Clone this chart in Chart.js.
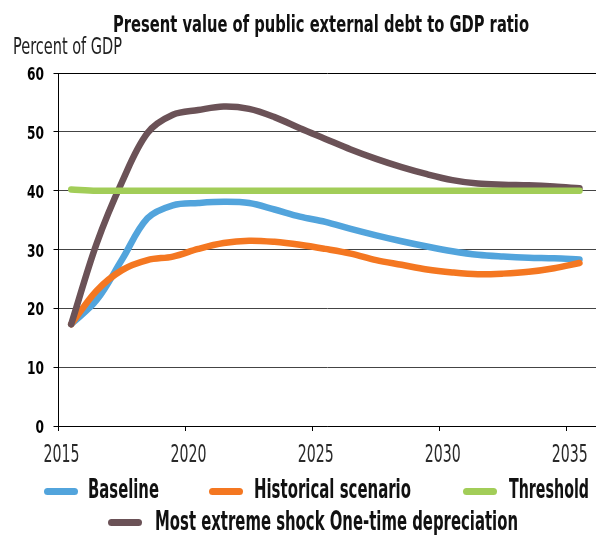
<!DOCTYPE html>
<html>
<head>
<meta charset="utf-8">
<script src="https://cdn.jsdelivr.net/npm/chart.js@4.4.0/dist/chart.umd.min.js"></script>
<style>
  html, body { margin: 0; padding: 0; background: #fff; }
  #wrap { position: relative; width: 596px; height: 535px; overflow: hidden; }
  canvas { position: absolute; left: 0; top: 0; }
  .t { position: absolute; white-space: nowrap; transform-origin: 0 0; line-height: 1;
       font-family: 'Liberation Sans Narrow', 'DejaVu Sans Condensed', sans-serif; color: #111; }
  .b { font-weight: bold; }
  .sw { position: absolute; height: 7px; width: 34px; border-radius: 4px; }
</style>
</head>
<body>
<div id="wrap">
  <canvas id="chart" width="596" height="535"></canvas>
  <div class="t b" id="title">Present value of public external debt to GDP ratio</div>
  <div class="t" id="unit" style="color:#222">Percent of GDP</div>
  <div id="legend"></div>
</div>
<script>
// données
const years = [2015, 2016, 2017, 2018, 2019, 2020, 2021, 2022, 2023, 2024, 2025,
               2026, 2027, 2028, 2029, 2030, 2031, 2032, 2033, 2034, 2035];
const baseline   = [17.3, 21.4, 28.3, 35.3, 37.5, 37.9, 38.1, 37.9, 36.8, 35.6, 34.7,
                    33.5, 32.4, 31.4, 30.5, 29.7, 29.1, 28.8, 28.6, 28.5, 28.3];
const historical = [17.3, 23.0, 26.5, 28.2, 28.8, 30.1, 31.1, 31.5, 31.3, 30.8, 30.1,
                    29.3, 28.2, 27.4, 26.6, 26.1, 25.8, 25.9, 26.2, 26.8, 27.7];
const threshold  = [40.2, 40, 40, 40, 40, 40, 40, 40, 40, 40, 40,
                    40, 40, 40, 40, 40, 40, 40, 40, 40, 40];
const shock      = [17.3, 31.0, 41.5, 49.8, 52.9, 53.7, 54.3, 53.9, 52.5, 50.6, 48.8,
                    47.0, 45.4, 44.0, 42.8, 41.8, 41.2, 41.0, 40.9, 40.7, 40.4];
const xTicks = [2015, 2020, 2025, 2030, 2035];
const yTicks = [0, 10, 20, 30, 40, 50, 60];
const seriesNames = ['Baseline', 'Historical scenario', 'Threshold', 'Most extreme shock One-time depreciation'];
const colors = ['#52a4dc', '#f47721', '#a2cd58', '#6b5257'];

const FONT = "'Liberation Sans Narrow', 'DejaVu Sans Condensed', sans-serif";

// points placés en milieu d'année
const pts = vals => vals.map((v, i) => ({ x: years[i] + 0.5, y: v }));

// texte compressé horizontalement (police étroite du modèle)
function drawSquished(c, s, x, y, k, align) {
  c.save();
  c.translate(x, y);
  c.scale(k, 1);
  c.textAlign = align;
  c.fillText(s, 0, 0);
  c.restore();
}

// étiquettes des axes dessinées à partir des échelles de Chart.js
const tickLabels = {
  id: 'tickLabels',
  afterDraw(chart) {
    const c = chart.ctx;
    const xs = chart.scales.x, ys = chart.scales.y;
    c.save();
    c.textBaseline = 'alphabetic';
    c.font = '25px ' + FONT;
    c.fillStyle = '#2a2a2a';
    const kx = 36 / c.measureText('2015').width;
    xs.ticks.forEach(t => {
      drawSquished(c, String(t.value), xs.getPixelForValue(t.value) + 3, 462, kx, 'center');
    });
    c.font = 'bold 17px ' + FONT;
    c.fillStyle = '#000';
    const ky = 17 / c.measureText('60').width;
    ys.ticks.forEach(t => {
      drawSquished(c, String(t.value), 44, ys.getPixelForValue(t.value) + 7, ky, 'right');
    });
    c.restore();
  }
};

const ctx = document.getElementById('chart').getContext('2d');
new Chart(ctx, {
  type: 'line',
  data: {
    datasets: [
      { label: seriesNames[0], data: pts(baseline),   borderColor: colors[0], order: 3 },
      { label: seriesNames[1], data: pts(historical), borderColor: colors[1], order: 2 },
      { label: seriesNames[2], data: pts(threshold),  borderColor: colors[2], order: 0 },
      { label: seriesNames[3], data: pts(shock),      borderColor: colors[3], order: 1 }
    ]
  },
  options: {
    responsive: false,
    animation: false,
    layout: { padding: { top: 73, right: 0, left: 0, bottom: 0 } },
    plugins: { legend: { display: false }, tooltip: { enabled: false } },
    elements: {
      point: { radius: 0 },
      line: { borderWidth: 6.5, tension: 0.35, fill: false,
              borderCapStyle: 'round', borderJoinStyle: 'round' }
    },
    scales: {
      x: {
        type: 'linear', min: 2015, max: 2036.15,
        afterBuildTicks: s => { s.ticks = xTicks.map(v => ({ value: v })); },
        afterFit: s => { s.height = 109; },
        grid: { drawOnChartArea: false, drawTicks: true, tickLength: 5, tickColor: '#000' },
        border: { color: '#000', width: 1 },
        ticks: { display: false }
      },
      y: {
        min: 0, max: 60,
        afterBuildTicks: s => { s.ticks = yTicks.map(v => ({ value: v })); },
        afterFit: s => { s.width = 58.5; },
        grid: { color: c => (c.tick && c.tick.value === 60) ? '#000' : '#444',
                tickColor: '#000', tickLength: 5 },
        border: { color: '#000', width: 1 },
        ticks: { display: false }
      }
    }
  },
  plugins: [tickLabels]
});

// légende et titres en HTML
const legendItems = [
  { i: 0, sx: 44,  sy: 491, tx: 88,  ty: 476, w: 71 },
  { i: 1, sx: 209, sy: 491, tx: 254, ty: 476, w: 157 },
  { i: 2, sx: 463, sy: 491, tx: 509, ty: 476, w: 80 },
  { i: 3, sx: 108, sy: 522, tx: 155, ty: 508, w: 363 }
];
const leg = document.getElementById('legend');
const fits = [];
legendItems.forEach(it => {
  const sw = document.createElement('div');
  sw.className = 'sw';
  sw.style.left = it.sx + 'px';
  sw.style.top = (it.sy - 3.5) + 'px';
  sw.style.background = colors[it.i];
  leg.appendChild(sw);
  const t = document.createElement('div');
  t.className = 't b';
  t.textContent = seriesNames[it.i];
  t.style.left = it.tx + 'px';
  t.style.top = it.ty + 'px';
  t.style.fontSize = '26px';
  leg.appendChild(t);
  fits.push([t, it.w]);
});

const title = document.getElementById('title');
title.style.left = '113px'; title.style.top = '13px'; title.style.fontSize = '23px';
fits.push([title, 416]);
const unit = document.getElementById('unit');
unit.style.left = '13px'; unit.style.top = '35px'; unit.style.fontSize = '23px';
fits.push([unit, 109]);

function fitAll() {
  fits.forEach(([el, w]) => {
    el.style.transform = 'none';
    const r = el.getBoundingClientRect().width;
    el.style.transform = 'scaleX(' + (w / r) + ')';
  });
}
fitAll();
if (document.fonts) document.fonts.ready.then(fitAll);
</script>
</body>
</html>
